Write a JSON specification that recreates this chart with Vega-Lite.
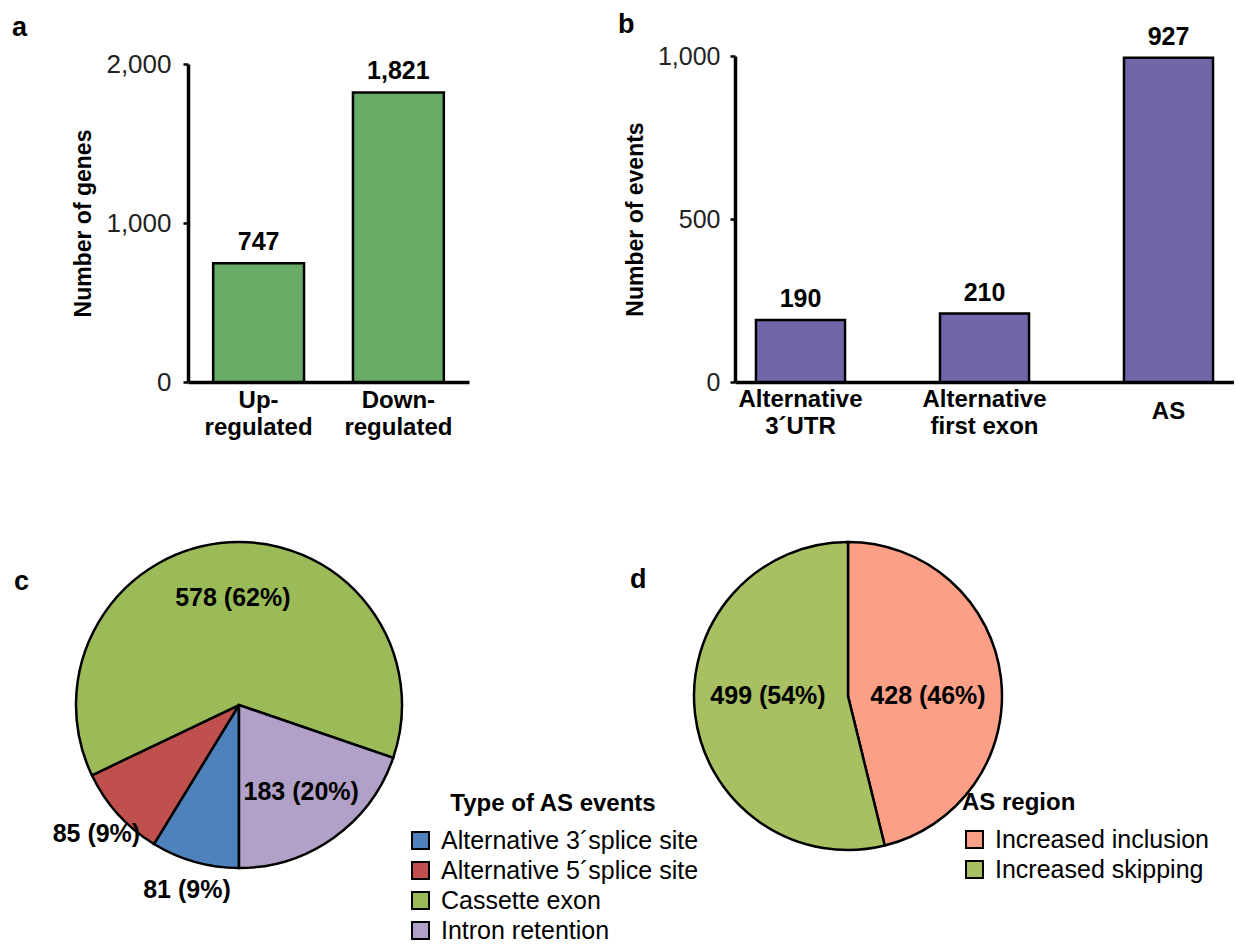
{
  "$schema": "https://vega.github.io/schema/vega-lite/v6.json",
  "autosize": {"type": "pad"},
  "padding": {"left": 12, "top": 10, "right": 0, "bottom": 0},
  "background": "white",
  "config": {
    "view": {"stroke": null},
    "font": "Liberation Sans",
    "title": {"fontSize": 27, "fontWeight": "bold", "color": "black", "anchor": "start", "frame": "group"}
  },
  "bounds": "flush",
  "columns": 2,
  "spacing": {"row": 160, "column": 266},
  "resolve": {"scale": {"x": "independent", "y": "independent", "theta": "independent", "color": "independent"}, "legend": {"color": "independent"}},
  "concat": [
    {
      "width": 393,
      "height": 326,
      "title": {"text": "a", "dx": -64, "offset": 9},
      "data": {"values": [
        {"regulation": "Up-regulated", "genes": 747},
        {"regulation": "Down-regulated", "genes": 1821}
      ]},
      "encoding": {
        "x": {
          "field": "regulation", "type": "nominal", "sort": null,
          "scale": {"range": [112, 393], "paddingInner": 0.35, "paddingOuter": 0.18},
          "axis": {
            "title": null, "labelAngle": 0, "ticks": false, "tickSize": 0,
            "domainWidth": 3.5, "domainColor": "black",
            "labelFontSize": 24, "labelFontWeight": "bold", "labelColor": "black",
            "labelBaseline": "middle", "labelPadding": 18, "labelLineHeight": 27,
            "labelExpr": "split(replace(datum.label, '-', '-|'), '|')"
          }
        },
        "y": {
          "field": "genes", "type": "quantitative",
          "scale": {"domain": [0, 2000], "range": [326, 8]},
          "axis": {
            "title": "Number of genes", "values": [0, 1000, 2000], "format": ",d",
            "offset": -112, "grid": false,
            "domainWidth": 3.5, "domainColor": "black",
            "tickColor": "black", "tickWidth": 2.5, "tickSize": 5,
            "labelFontSize": 26, "labelColor": "#222222", "labelPadding": 12,
            "titleFontSize": 23, "titleFontWeight": "bold", "titleColor": "black", "titlePadding": 10
          }
        }
      },
      "layer": [
        {"mark": {"type": "bar", "fill": "#67AB67", "stroke": "black", "strokeWidth": 2.5}},
        {"mark": {"type": "text", "baseline": "bottom", "dy": -8, "fontSize": 25, "fontWeight": "bold", "color": "black"},
         "encoding": {"text": {"field": "genes", "format": ","}}}
      ]
    },
    {
      "width": 499,
      "height": 326,
      "title": {"text": "b", "dx": -117, "offset": -14},
      "data": {"values": [
        {"event": "Alternative 3´UTR", "count": 190, "drawn": 190},
        {"event": "Alternative first exon", "count": 210, "drawn": 210},
        {"event": "AS", "count": 927, "drawn": 995}
      ]},
      "encoding": {
        "x": {
          "field": "event", "type": "nominal", "sort": null,
          "scale": {"paddingInner": 0.516, "paddingOuter": 0.114},
          "axis": {
            "title": null, "labelAngle": 0, "ticks": false, "tickSize": 0,
            "domainWidth": 3.5, "domainColor": "black",
            "labelFontSize": 24, "labelFontWeight": "bold", "labelColor": "black",
            "labelBaseline": {"condition": {"test": "datum.label == 'AS'", "value": "top"}, "value": "middle"},
            "labelPadding": 17, "labelLineHeight": 27,
            "labelExpr": "indexof(datum.label, 'Alternative ') == 0 ? ['Alternative', substring(datum.label, 12)] : datum.label"
          }
        },
        "y": {
          "field": "drawn", "type": "quantitative",
          "scale": {"domain": [0, 1000]},
          "axis": {
            "title": "Number of events", "values": [0, 500, 1000], "format": ",d",
            "grid": false,
            "domainWidth": 3.5, "domainColor": "black",
            "tickColor": "black", "tickWidth": 2.5, "tickSize": 5,
            "labelFontSize": 25, "labelColor": "#222222", "labelPadding": 10,
            "titleFontSize": 23, "titleFontWeight": "bold", "titleColor": "black", "titlePadding": 10
          }
        }
      },
      "layer": [
        {"mark": {"type": "bar", "fill": "#7067A8", "stroke": "black", "strokeWidth": 2.5}},
        {"mark": {"type": "text", "baseline": "bottom", "dy": -8, "fontSize": 25, "fontWeight": "bold", "color": "black"},
         "encoding": {"text": {"field": "count", "format": ","}}}
      ]
    },
    {
      "width": 326,
      "height": 326,
      "title": {"text": "c", "dx": -62, "offset": -95},
      "data": {"values": [
        {"type": "Alternative 3´splice site", "events": 81, "label": "81 (9%)"},
        {"type": "Alternative 5´splice site", "events": 85, "label": "85 (9%)"},
        {"type": "Cassette exon", "events": 578, "label": "578 (62%)"},
        {"type": "Intron retention", "events": 183, "label": "183 (20%)"}
      ]},
      "encoding": {
        "theta": {"field": "events", "type": "quantitative", "stack": true, "scale": {"range": [3.14159265, 9.42477796]}},
        "order": {"field": "type", "type": "ordinal"}
      },
      "layer": [
        {
          "mark": {"type": "arc", "outerRadius": 163, "stroke": "black", "strokeWidth": 2.5},
          "encoding": {
            "color": {
              "field": "type", "type": "nominal",
              "scale": {"range": ["#4F81BD", "#C0504D", "#9BBB59", "#B1A0C7"]},
              "legend": {
                "title": "Type of AS events", "orient": "none", "legendX": 332, "legendY": 250,
                "titleAnchor": "middle",
                "symbolType": "square", "symbolSize": 289, "symbolStrokeColor": "black", "symbolStrokeWidth": 2,
                "labelFontSize": 25, "labelColor": "black", "labelOffset": 8, "labelLimit": 400, "titleLimit": 400,
                "titleFontSize": 24, "titleFontWeight": "bold", "titleColor": "black", "titlePadding": 12,
                "rowPadding": 4, "padding": 0
              }
            }
          }
        },
        {
          "mark": {"type": "text", "radius": 107, "fontSize": 25, "fontWeight": "bold", "color": "black"},
          "encoding": {"text": {"condition": {"test": "datum.events > 100", "field": "label"}, "value": ""}}
        },
        {
          "mark": {"type": "text", "radius": 192, "fontSize": 25, "fontWeight": "bold", "color": "black"},
          "encoding": {"text": {"condition": {"test": "datum.events <= 100", "field": "label"}, "value": ""}}
        }
      ]
    },
    {
      "width": 226,
      "height": 308,
      "title": {"text": "d", "dx": -105, "offset": -57},
      "data": {"values": [
        {"region": "Increased inclusion", "events": 428, "label": "428 (46%)"},
        {"region": "Increased skipping", "events": 499, "label": "499 (54%)"}
      ]},
      "resolve": {"scale": {"theta": "independent"}},
      "layer": [
        {
          "mark": {"type": "arc", "outerRadius": 154, "stroke": "black", "strokeWidth": 2.5},
          "encoding": {
            "theta": {"field": "events", "type": "quantitative", "stack": true},
            "order": {"field": "region", "type": "ordinal"},
            "color": {
              "field": "region", "type": "nominal",
              "scale": {"range": ["#FB9F87", "#A8C062"]},
              "legend": {
                "title": "AS region", "orient": "none", "legendX": 227, "legendY": 249,
                "symbolType": "square", "symbolSize": 289, "symbolStrokeColor": "black", "symbolStrokeWidth": 2,
                "labelFontSize": 25, "labelColor": "black", "labelOffset": 8, "labelLimit": 400, "titleLimit": 400,
                "titleFontSize": 24, "titleFontWeight": "bold", "titleColor": "black", "titlePadding": 12,
                "rowPadding": 4, "padding": 0
              }
            }
          }
        },
        {
          "mark": {"type": "text", "radius": 80, "fontSize": 25, "fontWeight": "bold", "color": "black"},
          "encoding": {
            "theta": {"field": "events", "type": "quantitative", "stack": true, "scale": {"range": [0.122, 6.405]}},
            "order": {"field": "region", "type": "ordinal"},
            "text": {"field": "label"}
          }
        }
      ]
    }
  ]
}
